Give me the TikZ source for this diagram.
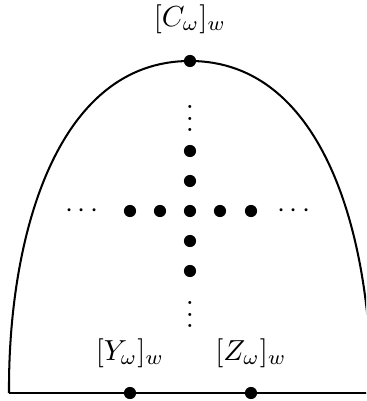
\documentclass[tikz,border=0pt]{standalone}
\begin{document}
\begin{tikzpicture}[x=0.345pt,y=-0.345pt,
  dot/.style={circle,fill=black,inner sep=0pt,minimum size=4.2pt},
  lab/.style={anchor=base,inner sep=0pt},
  edge/.style={line width=0.7pt}]
\useasboundingbox (0,0) rectangle (366,401);
\clip (0,0) rectangle (366,401);
% outline
\coordinate (bl) at (9,393);
\coordinate (br) at (371,393);
\node[dot] (C) at (190,61) {};
\draw[edge] (bl) .. controls (8,240) and (55,61) .. (C.center)
  .. controls (325,61) and (372,240) .. (br);
\draw[edge] (bl) -- (br);
% bottom points
\node[dot] (Y) at (130,393) {};
\node[dot] (Z) at (251,393) {};
% cross of dots
\node[dot] (v1) at (190,151) {};
\node[dot] (v2) at (190,181) {};
\node[dot] (c0) at (190,211) {};
\node[dot] (v4) at (190,241) {};
\node[dot] (v5) at (190,271) {};
\node[dot] (h1) at (130,211) {};
\node[dot] (h2) at (160,211) {};
\node[dot] (h4) at (220,211) {};
\node[dot] (h5) at (251,211) {};
% ellipses
\node[inner sep=0pt] (vt) at (190,110) {$\vdots$};
\node[inner sep=0pt] (vb) at (190,306) {$\vdots$};
\node[inner sep=0pt] (hl) at (82,211) {$\cdots$};
\node[inner sep=0pt] (hr) at (294,211) {$\cdots$};
% labels
\node[lab] (Cl) at (190,26) {$[C_\omega]_w$};
\node[lab] (Yl) at (130,360) {$[Y_\omega]_w$};
\node[lab] (Zl) at (251,360) {$[Z_\omega]_w$};
\end{tikzpicture}
\end{document}
